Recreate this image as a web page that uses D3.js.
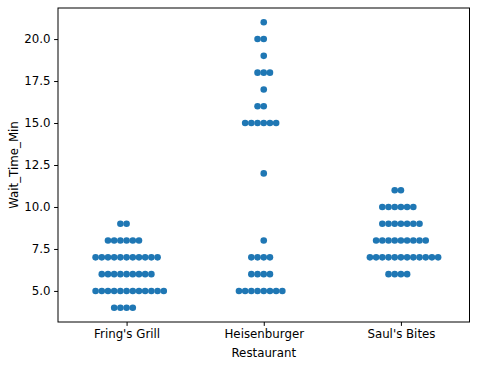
<!DOCTYPE html>
<html>
<head>
<meta charset="utf-8">
<script src="https://cdn.jsdelivr.net/npm/d3@7"></script>
<style>
  html, body { margin: 0; padding: 0; background: #ffffff; }
  svg { display: block; }
  text { font-family: "DejaVu Sans", sans-serif; fill: #000; }
</style>
</head>
<body>
<svg id="chart" width="478" height="367"></svg>
<script>
// ---- Data ----
const categories = ["Fring's Grill", "Heisenburger", "Saul's Bites"];
const fringsGrillWaits = [
  4, 4, 4, 4,
  5, 5, 5, 5, 5, 5, 5, 5, 5, 5, 5, 5,
  6, 6, 6, 6, 6, 6, 6, 6, 6,
  7, 7, 7, 7, 7, 7, 7, 7, 7, 7, 7,
  8, 8, 8, 8, 8, 8,
  9, 9
];
const heisenburgerWaits = [
  5, 5, 5, 5, 5, 5, 5, 5,
  6, 6, 6, 6,
  7, 7, 7, 7,
  8,
  12,
  15, 15, 15, 15, 15, 15,
  16, 16,
  17,
  18, 18, 18,
  19,
  20, 20,
  21
];
const saulsBitesWaits = [
  6, 6, 6, 6,
  7, 7, 7, 7, 7, 7, 7, 7, 7, 7, 7, 7,
  8, 8, 8, 8, 8, 8, 8, 8, 8,
  9, 9, 9, 9, 9, 9, 9,
  10, 10, 10, 10, 10, 10,
  11, 11
];
const seriesValues = [fringsGrillWaits, heisenburgerWaits, saulsBitesWaits];
const yTickValues = [5.0, 7.5, 10.0, 12.5, 15.0, 17.5, 20.0];
const xAxisTitle = "Restaurant";
const yAxisTitle = "Wait_Time_Min";

// ---- Layout ----
const W = 478, H = 367;
const margin = { left: 58, right: 8.5, top: 8, bottom: 45 };
const plotL = margin.left, plotR = W - margin.right;
const plotT = margin.top, plotB = H - margin.bottom;
const dotColor = "#1f77b4";
const dotR = 3.3;
const dotStep = 6.2;
const fontSize = 11.8;

const svg = d3.select("#chart");

const x = d3.scaleLinear().domain([-0.5, categories.length - 0.5]).range([plotL, plotR]);
const allVals = seriesValues.flat();
const yMin = d3.min(allVals), yMax = d3.max(allVals);
const pad = (yMax - yMin) * 0.05;
const y = d3.scaleLinear().domain([yMin - pad, yMax + pad]).range([plotB, plotT]);

// Swarm layout: points sharing a value are laid out side by side.
function rowOffsets(n) {
  const lo = (n % 2 === 0 && n < 12) ? -n / 2 : -Math.floor((n - 1) / 2);
  return d3.range(n).map(i => lo + i);
}

const points = [];
seriesValues.forEach((vals, ci) => {
  const groups = d3.group(vals, v => v);
  for (const [v, arr] of groups) {
    rowOffsets(arr.length).forEach(o => points.push({ ci, v, o }));
  }
});

// dots
svg.append("g").selectAll("circle").data(points).join("circle")
  .attr("cx", d => x(d.ci) + d.o * dotStep)
  .attr("cy", d => y(d.v))
  .attr("r", dotR)
  .attr("fill", dotColor);

// axes
const xAxis = d3.axisBottom(x).tickValues(d3.range(categories.length))
  .tickFormat(i => categories[i]).tickSize(3.9).tickPadding(3.5);
const gx = svg.append("g").attr("transform", `translate(0,${plotB})`).call(xAxis);
gx.select(".domain").remove();
gx.selectAll("line").attr("stroke", "#000").attr("stroke-width", 1);
gx.selectAll("text").attr("font-size", fontSize).attr("font-family", "DejaVu Sans").attr("fill", "#000");

const yAxis = d3.axisLeft(y).tickValues(yTickValues).tickFormat(d3.format(".1f"))
  .tickSize(3.9).tickPadding(3.5);
const gy = svg.append("g").attr("transform", `translate(${plotL},0)`).call(yAxis);
gy.select(".domain").remove();
gy.selectAll("line").attr("stroke", "#000").attr("stroke-width", 1);
gy.selectAll("text").attr("font-size", fontSize).attr("font-family", "DejaVu Sans").attr("fill", "#000");

// frame
svg.append("rect")
  .attr("x", plotL).attr("y", plotT)
  .attr("width", plotR - plotL).attr("height", plotB - plotT)
  .attr("fill", "none").attr("stroke", "#000").attr("stroke-width", 1);

// axis titles
svg.append("text")
  .attr("x", (plotL + plotR) / 2).attr("y", 357)
  .attr("text-anchor", "middle").attr("font-size", fontSize)
  .text(xAxisTitle);
svg.append("text")
  .attr("transform", `translate(18,${(plotT + plotB) / 2}) rotate(-90)`)
  .attr("text-anchor", "middle").attr("font-size", fontSize)
  .text(yAxisTitle);
</script>
</body>
</html>
